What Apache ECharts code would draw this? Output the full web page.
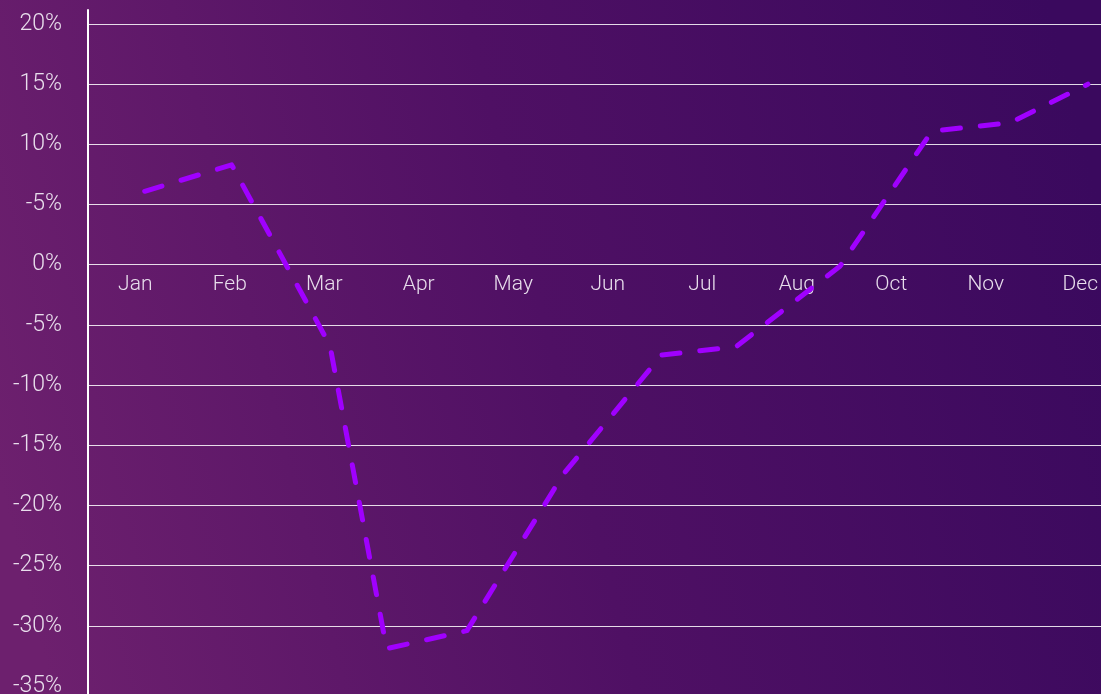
<!DOCTYPE html>
<html>
<head>
<meta charset="utf-8">
<style>
  html, body { margin: 0; padding: 0; }
  #line { width: 1101px; height: 694px; }
</style>
<script src="https://cdn.jsdelivr.net/npm/echarts@6/dist/echarts.min.js"></script>
</head>
<body>
<div id="line"></div>
<script>
// month labels shown under the zero line (Sep is missing in the original)
var months = ['Jan', 'Feb', 'Mar', 'Apr', 'May', 'Jun', 'Jul', 'Aug', 'Oct', 'Nov', 'Dec'];
// tick labels from -35 up to 20, as printed (the 5% tick reads "-5%")
var yLabels = ['-35%', '-30%', '-25%', '-20%', '-15%', '-10%', '-5%', '0%', '-5%', '10%', '15%', '20%'];
// where each point sits along the month bands, and its value in %
var pointPos = [0.6, 1.52, 2.56, 3.16, 4.01, 5.03, 6.07, 6.86, 7.96, 8.93, 9.76, 10.58];
var pointValues = [6.1, 8.3, -6.7, -31.9, -30.4, -17.4, -7.5, -6.8, -0.1, 11.1, 11.8, 15.0];

var labelColor = '#e8deec';
var gridColor = 'rgba(255,255,255,0.85)';
var fontFamily = 'Roboto, "Open Sans", sans-serif';

var chartTop = 24;
var chartBottom = 8;
var yMin = -35;
var yMax = 20;
// pull the month axis up from the bottom edge to the 0% line
var zeroOffset = -(694 - chartTop - chartBottom) * (0 - yMin) / (yMax - yMin);

var option = {
  backgroundColor: {
    type: 'linear',
    x: 0, y: 0.7, x2: 1, y2: 0.3,
    colorStops: [
      { offset: 0, color: '#6d206e' },
      { offset: 0.5, color: '#4f1064' },
      { offset: 1, color: '#3a095e' }
    ]
  },
  grid: [
    { left: 88, right: -26.5, top: chartTop, bottom: chartBottom, outerBoundsMode: 'none', containLabel: false },
    { left: 88, width: 1, top: 10, bottom: 0, outerBoundsMode: 'none', containLabel: false }
  ],
  xAxis: [
    {
      type: 'category',
      gridIndex: 0,
      position: 'bottom',
      offset: zeroOffset,
      data: months,
      boundaryGap: true,
      axisLine: { show: false, onZero: false },
      axisTick: { show: false },
      splitLine: { show: false },
      axisLabel: {
        color: labelColor,
        fontSize: 21,
        fontWeight: 300,
        fontFamily: fontFamily,
        margin: 10
      }
    },
    { type: 'value', gridIndex: 0, min: 0, max: 11, show: false },
    { type: 'value', gridIndex: 1, show: false }
  ],
  yAxis: [
    {
      type: 'value',
      gridIndex: 0,
      min: yMin,
      max: yMax,
      interval: 5,
      axisLine: { show: false },
      axisTick: { show: false },
      axisLabel: {
        color: labelColor,
        fontSize: 23,
        fontWeight: 300,
        fontFamily: fontFamily,
        margin: 26,
        formatter: function (v) {
          return yLabels[Math.round((v - yMin) / 5)];
        }
      },
      splitLine: {
        show: true,
        showMinLine: false,
        lineStyle: { color: gridColor, width: 1 }
      }
    },
    {
      type: 'value',
      gridIndex: 1,
      axisLine: { show: true, onZero: false, lineStyle: { color: '#ffffff', width: 2 } },
      axisTick: { show: false },
      axisLabel: { show: false },
      splitLine: { show: false }
    }
  ],
  series: [
    {
      type: 'line',
      xAxisIndex: 1,
      yAxisIndex: 0,
      showSymbol: false,
      data: pointPos.map(function (x, i) { return [x, pointValues[i]]; }),
      lineStyle: {
        color: '#a000ff',
        width: 5,
        type: [18, 20],
        cap: 'round',
        join: 'round'
      }
    }
  ]
};

var myChart = echarts.init(document.getElementById('line'));
myChart.setOption(option);
</script>
</body>
</html>
